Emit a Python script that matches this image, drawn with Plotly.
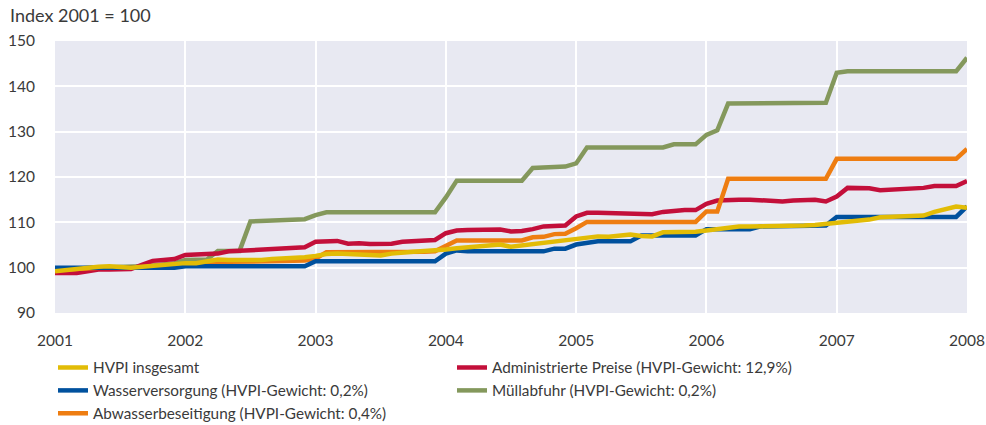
import plotly.graph_objects as go

# Monthly observations, January 2001 to January 2008 (85 points)
start_year = 2001
tick_years = [2001, 2002, 2003, 2004, 2005, 2006, 2007, 2008]
y_ticks = [90, 100, 110, 120, 130, 140, 150]

hvpi = [99.2, 99.5, 99.8, 100.0, 100.2, 100.3, 100.2, 100.0, 100.2, 100.4, 100.7, 100.9,
        101.0, 101.0, 101.3, 101.8, 101.7, 101.7, 101.6, 101.7, 101.9, 102.0, 102.1, 102.3,
        102.6, 103.0, 103.1, 103.0, 102.9, 102.8, 102.7, 103.1, 103.4, 103.5, 103.7, 103.8,
        104.0, 104.3, 104.5, 104.7, 105.0, 105.1, 104.6, 104.9, 105.2, 105.5, 105.8, 106.0,
        106.4, 106.7, 106.9, 106.8, 107.0, 107.3, 107.0, 106.9, 107.8, 107.8, 107.7, 107.9,
        108.2, 108.5, 108.8, 109.1, 109.1, 109.1, 109.1, 109.1, 109.2, 109.3, 109.4, 109.6,
        110.0, 110.2, 110.4, 110.6, 111.1, 111.2, 111.3, 111.3, 111.5, 112.3, 112.8, 113.5,
        113.2]

wasser = [100.0, 100.0, 100.0, 100.0, 100.0, 100.0, 100.0, 100.0, 100.0, 100.0, 100.0, 100.0,
          100.3, 100.3, 100.3, 100.3, 100.3, 100.3, 100.3, 100.3, 100.3, 100.3, 100.3, 100.3,
          101.4, 101.4, 101.4, 101.4, 101.4, 101.4, 101.4, 101.4, 101.4, 101.4, 101.4, 101.4,
          103.1, 103.8, 103.6, 103.6, 103.6, 103.6, 103.6, 103.6, 103.6, 103.6, 104.2, 104.2,
          105.1, 105.5, 105.8, 105.8, 105.8, 105.8, 107.1, 107.1, 107.1, 107.1, 107.1, 107.1,
          108.5, 108.5, 108.5, 108.5, 108.5, 109.1, 109.1, 109.1, 109.1, 109.1, 109.2, 109.3,
          111.2, 111.2, 111.2, 111.2, 111.2, 111.2, 111.2, 111.2, 111.2, 111.2, 111.2, 111.2,
          113.5]

abwasser = [99.5, 99.6, 99.8, 100.0, 100.1, 100.1, 100.0, 100.0, 100.1, 100.3, 100.5, 100.7,
            100.9, 101.0, 101.1, 101.3, 101.3, 101.3, 101.3, 101.4, 101.4, 101.5, 101.5, 101.6,
            102.0, 103.4, 103.4, 103.4, 103.3, 103.3, 103.3, 103.3, 103.4, 103.4, 103.5, 103.6,
            104.8, 106.0, 106.0, 106.0, 106.0, 106.0, 106.0, 106.0, 106.7, 106.8, 107.4, 107.5,
            108.7, 110.1, 110.1, 110.1, 110.1, 110.1, 110.1, 110.1, 110.1, 110.1, 110.1, 110.1,
            112.4, 112.4, 119.6, 119.6, 119.6, 119.6, 119.6, 119.6, 119.6, 119.6, 119.6, 119.6,
            124.0, 124.0, 124.0, 124.0, 124.0, 124.0, 124.0, 124.0, 124.0, 124.0, 124.0, 124.0,
            126.2]

admin = [98.8, 98.8, 98.8, 99.2, 99.6, 99.6, 99.6, 99.7, 100.6, 101.5, 101.7, 101.9,
         102.8, 102.9, 103.0, 103.1, 103.6, 103.7, 103.8, 104.0, 104.2, 104.3, 104.4, 104.5,
         105.7, 105.8, 105.9, 105.3, 105.4, 105.2, 105.2, 105.3, 105.7, 105.8, 105.9, 106.1,
         107.6, 108.2, 108.3, 108.3, 108.4, 108.4, 108.0, 108.1, 108.5, 109.1, 109.2, 109.3,
         111.3, 112.1, 112.1, 112.0, 112.0, 112.0, 111.9, 111.8, 112.3, 112.6, 112.7, 112.7,
         114.1, 114.8, 115.0, 115.0, 115.0, 114.8, 114.7, 114.6, 114.8, 114.9, 115.0, 114.6,
         115.7, 117.6, 117.6, 117.5, 117.1, 117.2, 117.3, 117.4, 117.6, 118.0, 118.1, 118.0,
         119.1]

muell = [99.5, 99.7, 99.9, 100.0, 100.1, 100.1, 100.1, 100.1, 100.3, 100.5, 100.8, 101.0,
         101.7, 101.8, 101.8, 103.7, 103.7, 103.7, 110.2, 110.3, 110.3, 110.3, 110.6, 110.7,
         111.6, 112.2, 112.2, 112.2, 112.2, 112.2, 112.2, 112.2, 112.2, 112.2, 112.2, 112.2,
         115.5, 119.2, 119.2, 119.2, 119.2, 119.2, 119.2, 119.2, 122.0, 122.0, 122.2, 122.3,
         123.0, 126.5, 126.5, 126.5, 126.5, 126.5, 126.5, 126.5, 126.5, 127.2, 127.2, 127.2,
         129.3, 130.3, 136.2, 136.2, 136.2, 136.2, 136.4, 136.4, 136.4, 136.4, 136.4, 136.4,
         143.0, 143.3, 143.3, 143.3, 143.3, 143.3, 143.3, 143.3, 143.3, 143.3, 143.3, 143.3,
         146.3]

names = ["HVPI insgesamt",
         "Administrierte Preise (HVPI-Gewicht: 12,9%)",
         "Wasserversorgung (HVPI-Gewicht: 0,2%)",
         "Müllabfuhr (HVPI-Gewicht: 0,2%)",
         "Abwasserbeseitigung (HVPI-Gewicht: 0,4%)"]

x = [start_year + i / 12 for i in range(len(hvpi))]

FONT = "Lato, Open Sans, sans-serif"
TXT = "#3a3a3a"

fig = go.Figure()
# drawing order (bottom to top); legend ranks set legend order
series = [
    (muell, names[3], "#84985C", 4),
    (admin, names[1], "#C30F3A", 2),
    (abwasser, names[4], "#EE7D11", 5),
    (wasser, names[2], "#00519E", 3),
    (hvpi, names[0], "#E2BC06", 1),
]
for vals, nm, col, rank in series:
    fig.add_trace(go.Scatter(x=x, y=vals, name=nm, mode="lines",
                             line=dict(color=col, width=4.5),
                             legendrank=rank))

fig.update_layout(
    width=986, height=425,
    margin=dict(l=55, r=19, t=41, b=112, autoexpand=False),
    paper_bgcolor="white",
    plot_bgcolor="#E8E9F2",
    font=dict(family=FONT, size=16, color=TXT),
    showlegend=True,
    title=dict(text="Index 2001 = 100", xref="container", yref="container",
               x=0.0, xanchor="left", y=1 - 16 / 425, yanchor="middle",
               pad=dict(l=10, t=0, b=0, r=0),
               font=dict(family=FONT, size=18, color=TXT)),
    legend=dict(orientation="h", xref="container", yref="container",
                x=53 / 986, xanchor="left", y=0.174, yanchor="top",
                entrywidth=354, entrywidthmode="pixels",
                font=dict(family=FONT, size=15.3, color=TXT),
                bgcolor="rgba(0,0,0,0)", traceorder="normal",
                itemwidth=30, tracegroupgap=0),
    xaxis=dict(range=[2001, 2008], tickmode="array", tickvals=tick_years,
               ticktext=[str(t) for t in tick_years],
               showgrid=True, gridcolor="white", gridwidth=1.5,
               zeroline=False, showline=False, ticks="", ticklabelstandoff=16,
               ticklabeloverflow="allow", automargin=False,
               tickfont=dict(family=FONT, size=15.5, color=TXT)),
    yaxis=dict(range=[90, 150], tickmode="array", tickvals=y_ticks,
               showgrid=True, gridcolor="white", gridwidth=1.5,
               zeroline=False, showline=False, ticks="", ticklabelstandoff=19,
               automargin=False,
               tickfont=dict(family=FONT, size=15.5, color=TXT)),
)

fig.write_html("out.html", config={"displayModeBar": False},
               post_script="document.body.style.margin='0';document.body.style.padding='0';")
